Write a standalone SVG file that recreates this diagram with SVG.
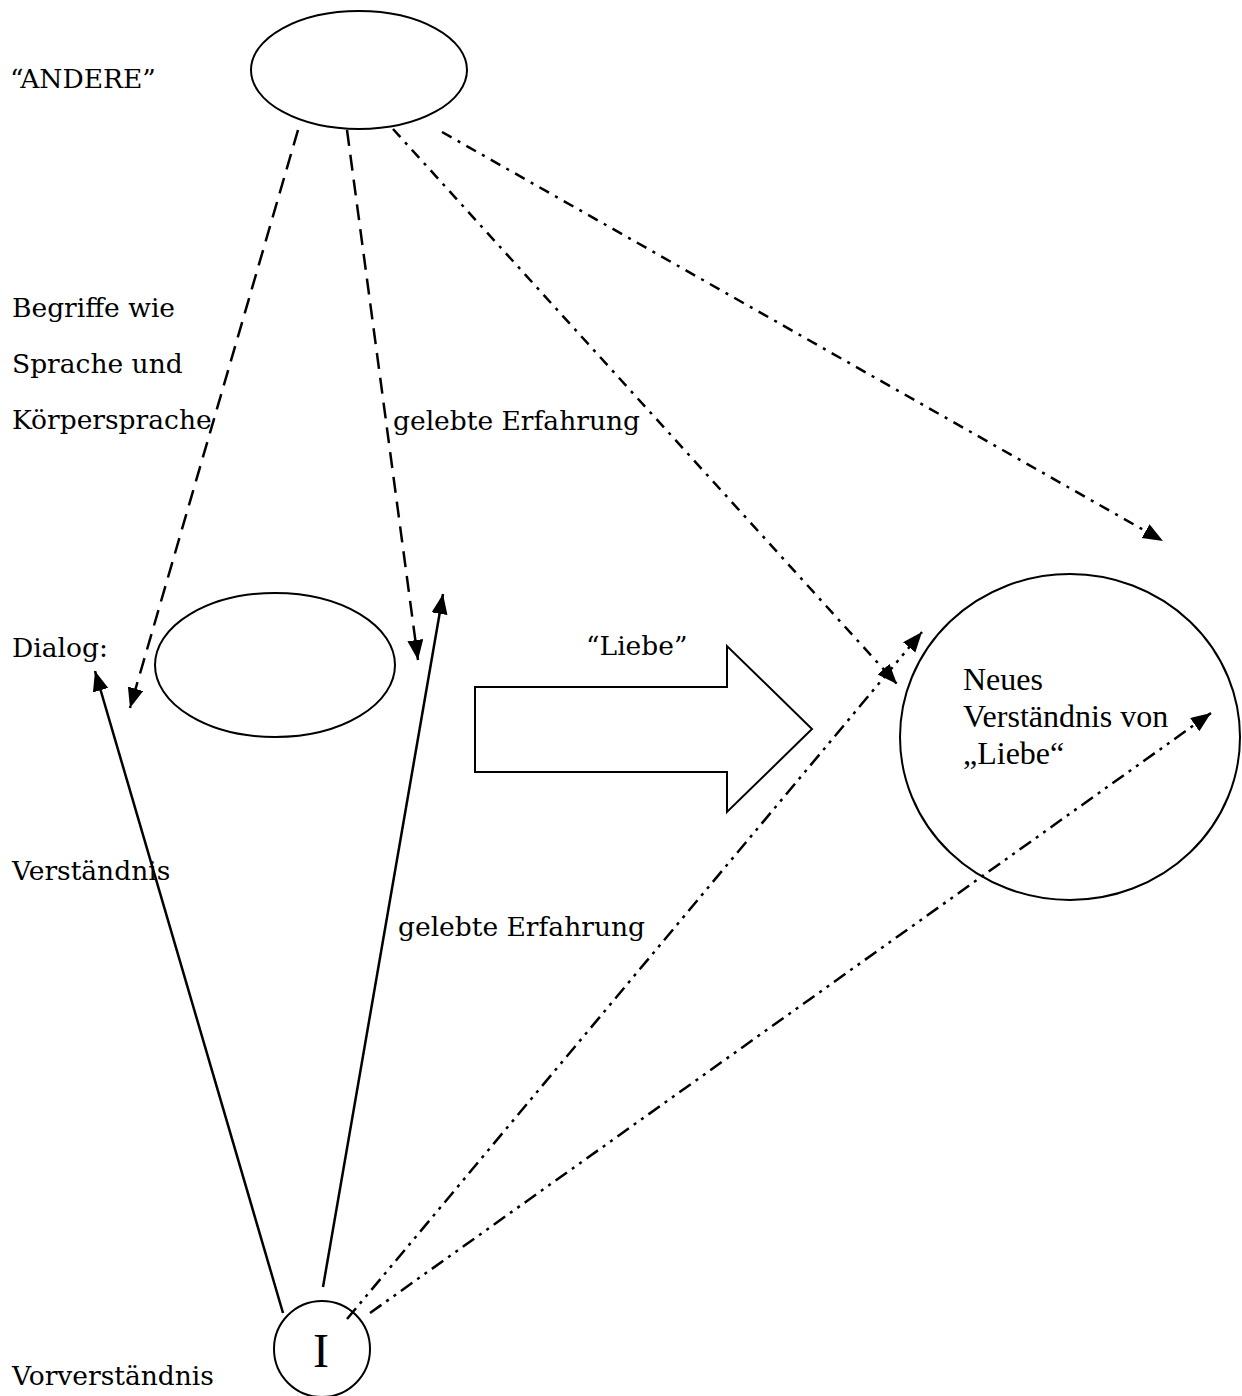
<svg xmlns="http://www.w3.org/2000/svg" width="1242" height="1396" viewBox="0 0 1242 1396">
<style>
.shape{fill:#fff;stroke:#000;stroke-width:2}
.lbl{font-family:"DejaVu Serif",serif;font-size:26.5px;fill:#000}
.tnr{font-family:"Liberation Serif","Times New Roman",serif;fill:#000}
.c{fill:none;stroke:#000;stroke-width:2.5}
.dash{stroke-dasharray:16 9}
.dd{stroke-dasharray:11 7 3 7}
.ddd{stroke-dasharray:14 6 3 6 3 6}
</style>
<defs>
<marker id="ah" markerUnits="userSpaceOnUse" markerWidth="22" markerHeight="18" refX="20" refY="8" orient="auto">
<path d="M0,0 L20,8 L0,16 Z" fill="#000"/>
</marker>
</defs>
<rect width="1242" height="1396" fill="#fff"/>
<g id="labels">
<text class="lbl" x="10" y="88">“ANDERE”</text>
<text class="lbl" x="12" y="317">Begriffe wie</text>
<text class="lbl" x="12" y="373">Sprache und</text>
<text class="lbl" x="12" y="429">Körpersprache</text>
<text class="lbl" x="393" y="430">gelebte Erfahrung</text>
<text class="lbl" x="12" y="657">Dialog:</text>
<text class="lbl" x="586" y="655">“Liebe”</text>
<text class="lbl" x="12" y="880">Verständnis</text>
<text class="lbl" x="398" y="936">gelebte Erfahrung</text>
<text class="lbl" x="12" y="1385">Vorverständnis</text>
</g>
<g id="node-andere"><ellipse class="shape" cx="359" cy="70" rx="108" ry="59"/></g>
<g id="node-dialog"><ellipse class="shape" cx="275" cy="665" rx="120" ry="72"/></g>
<g id="node-liebe-arrow"><polygon class="shape" points="475,687 727,687 727,646 812,729 727,812 727,772 475,772"/></g>
<g id="node-neues">
<ellipse class="shape" cx="1070" cy="737" rx="170" ry="163"/>
<text class="tnr" font-size="32" x="963" y="690">Neues</text>
<text class="tnr" font-size="32" x="963" y="727">Verständnis von</text>
<text class="tnr" font-size="32" x="963" y="764">„Liebe“</text>
</g>
<g id="node-i">
<circle class="shape" cx="322" cy="1349" r="48"/>
<text class="tnr" font-size="48" x="321" y="1367" text-anchor="middle">I</text>
</g>
<g id="connectors">
<line class="c dash" x1="298" y1="130" x2="130" y2="708" marker-end="url(#ah)"/>
<line class="c dash" x1="347" y1="130" x2="418" y2="660" marker-end="url(#ah)"/>
<line class="c dd" x1="393" y1="129" x2="897" y2="684" marker-end="url(#ah)"/>
<line class="c dd" x1="442" y1="132" x2="1163" y2="541" marker-end="url(#ah)"/>
<line class="c" x1="283" y1="1313" x2="95" y2="671" marker-end="url(#ah)"/>
<line class="c" x1="323" y1="1287" x2="443" y2="594" marker-end="url(#ah)"/>
<line class="c ddd" x1="347" y1="1319" x2="922" y2="632" marker-end="url(#ah)"/>
<line class="c ddd" x1="370" y1="1313" x2="1211" y2="713" marker-end="url(#ah)"/>
</g>
</svg>
